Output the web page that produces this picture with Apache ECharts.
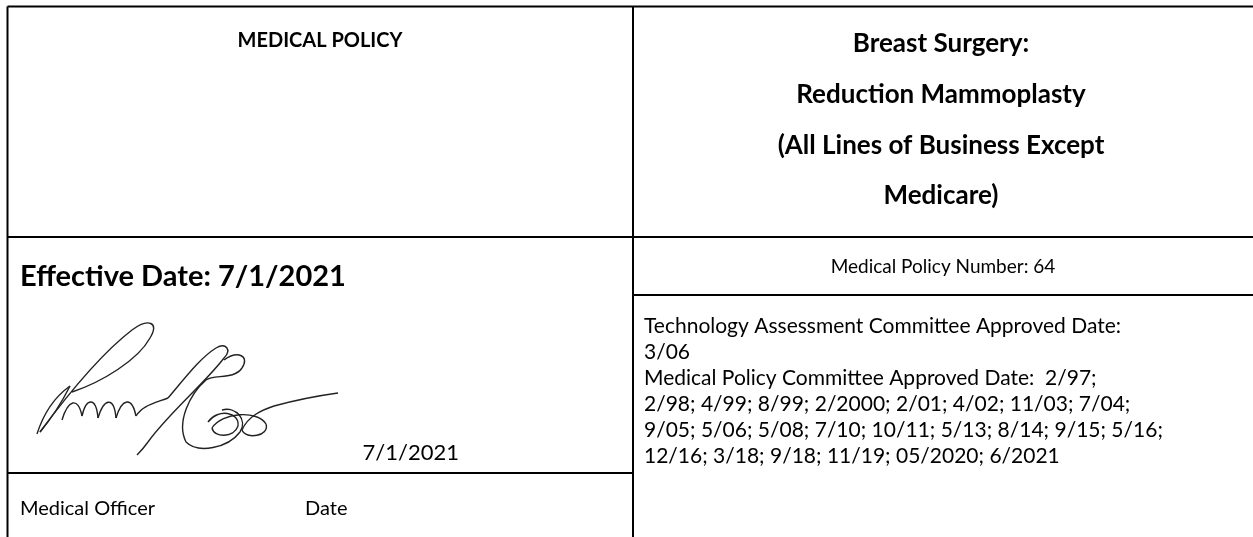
<!DOCTYPE html>
<html>
<head>
<meta charset="utf-8">
<script src="https://cdn.jsdelivr.net/npm/echarts@6/dist/echarts.min.js"></script>
<style>html,body{margin:0;padding:0;background:#fff}#c{width:1253px;height:537px}</style>
</head>
<body>
<div id="c"></div>
<script>
// Content of the table cells
const headerLeft = ['MEDICAL POLICY'];
const headerRight = ['Breast Surgery:', 'Reduction Mammoplasty', '(All Lines of Business Except', 'Medicare)'];
const effectiveDate = ['Effective Date: 7/1/2021'];
const signDate = ['7/1/2021'];
const footerLeft = ['Medical Officer', 'Date'];
const policyNumber = ['Medical Policy Number: 64'];
const approvalLines = [
  'Technology Assessment Committee Approved Date:',
  '3/06',
  'Medical Policy Committee Approved Date:  2/97;',
  '2/98; 4/99; 8/99; 2/2000; 2/01; 4/02; 11/03; 7/04;',
  '9/05; 5/06; 5/08; 7/10; 10/11; 5/13; 8/14; 9/15; 5/16;',
  '12/16; 3/18; 9/18; 11/19; 05/2020; 6/2021'
];

const FONT = 'Lato, "Open Sans", sans-serif';
const chart = echarts.init(document.getElementById('c'));
const g = [];
function line(x1, y1, x2, y2) {
  g.push({type: 'line', shape: {x1, y1, x2, y2}, style: {stroke: '#000', lineWidth: 2}, silent: true});
}
function text(t, x, y, size, weight, align) {
  g.push({type: 'text', x, y, style: {text: t, font: weight + ' ' + size + 'px ' + FONT, fill: '#000', textAlign: align, textVerticalAlign: 'middle'}, silent: true});
}
// grid lines
line(7.5, 6.5, 1253, 6.5);
line(7.5, 6.5, 7.5, 537);
line(633, 6.5, 633, 537);
line(7.5, 237, 1253, 237);
line(633, 295, 1253, 295);
line(7.5, 473, 633, 473);

text(headerLeft[0], 320, 41, 20, 'bold', 'center');
const hy = [44, 95, 146, 196];
headerRight.forEach((t, i) => text(t, 941, hy[i], 26, 'bold', 'center'));
text(effectiveDate[0], 20, 277, 29, 'bold', 'left');
text(signDate[0], 459, 453, 22, 'normal', 'right');
text(footerLeft[0], 20, 509, 20, 'normal', 'left');
text(footerLeft[1], 305, 509, 20, 'normal', 'left');
text(policyNumber[0], 943, 267, 19, 'normal', 'center');
approvalLines.forEach((t, i) => text(t, 644, 326 + i * 26, 21, 'normal', 'left'));

// signature strokes (cubic bezier segments)
const sig = [
  'M37,434 C44,412 56,396 70,386 C62,402 50,420 40,432 C60,405 98,356 132,330 C148,318 160,322 150,338 C138,360 102,382 72,392',
  'M62,420 C68,400 78,396 82,416 C86,398 96,396 98,418 C104,398 114,396 116,418 C122,398 132,396 136,416 C142,406 152,404 168,398',
  'M168,398 C185,378 200,358 216,348 C226,342 232,350 224,358 C206,382 168,414 148,442 C143,449 139,453 137,455',
  'M224,360 C238,350 250,356 242,368 C234,380 214,374 206,380 C190,394 176,422 186,442 C198,454 228,448 240,432 C248,420 236,406 222,410',
  'M208,422 C218,408 240,412 238,426 C234,438 214,438 212,428 C222,412 258,410 266,424 C270,436 246,440 242,430 C248,416 262,410 274,406 C296,400 316,396 338,393'
];
sig.forEach(d => {
  const nums = d.replace(/[MC]/g, ' ').trim().split(/[\s,]+/).map(Number);
  let x = nums[0], y = nums[1];
  for (let i = 2; i + 5 < nums.length; i += 6) {
    const seg = {x1: x, y1: y, cpx1: nums[i], cpy1: nums[i + 1], cpx2: nums[i + 2], cpy2: nums[i + 3], x2: nums[i + 4], y2: nums[i + 5]};
    g.push({type: 'bezierCurve', shape: seg, style: {stroke: '#222', lineWidth: 1.4, fill: null}, silent: true});
    x = seg.x2; y = seg.y2;
  }
});

chart.setOption({backgroundColor: '#fff', animation: false, graphic: {elements: g}});
</script>
</body>
</html>
